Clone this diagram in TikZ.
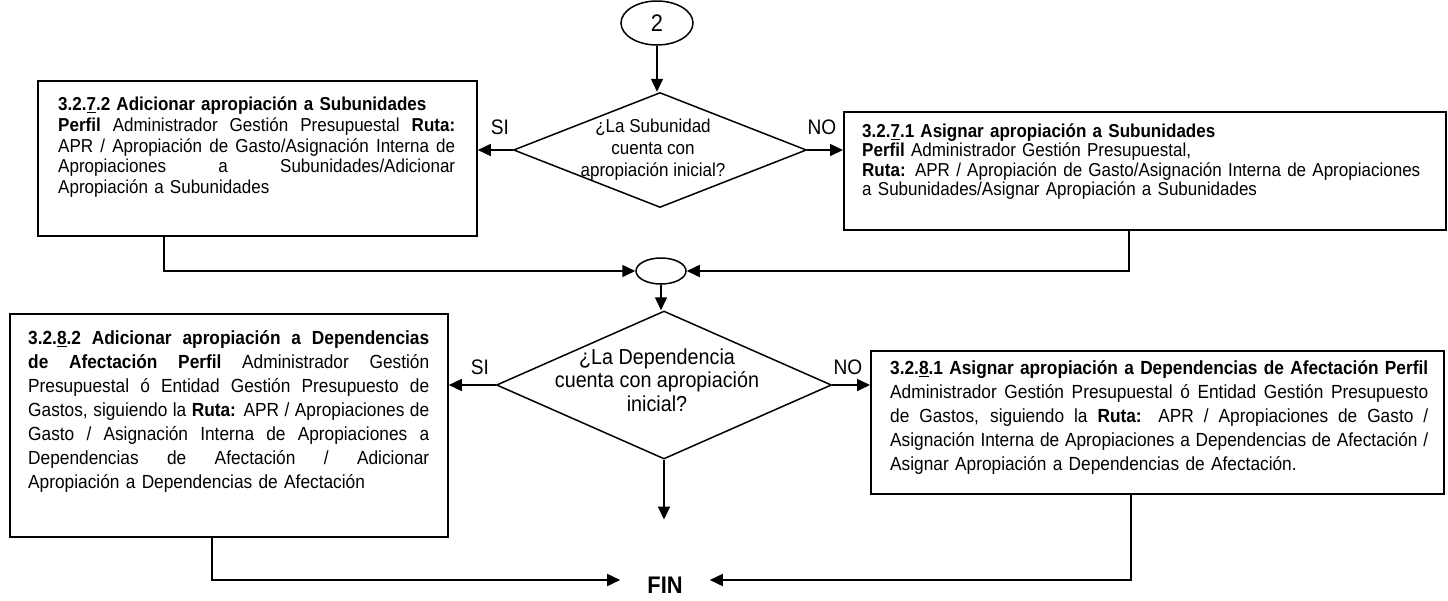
\documentclass[tikz,border=0pt]{standalone}
\usepackage{fontspec}
\setmainfont{Liberation Sans}[FakeStretch=0.91]
\usetikzlibrary{shapes.geometric,arrows.meta}
\newcommand{\jline}[2]{{\spaceskip=0pt\xspaceskip=0pt\makebox[#1][s]{#2}}}
\begin{document}
\begin{tikzpicture}[x=1pt,y=-1pt,
  box/.style={draw,line width=1.8pt,anchor=north west,inner sep=0pt},
  txt/.style={anchor=north west,inner sep=0pt,align=left},
  conn/.style={line width=1.6pt},
  arr/.style={conn,-{Triangle[length=13pt,width=12pt]}},
  lbl/.style={font=\fontsize{21}{24}\selectfont,inner sep=0pt},
  shp/.style={draw,line width=1.5pt,inner sep=0pt}
]
\useasboundingbox (0,0) rectangle (1448,600);

% start connector
\node[shp,ellipse,minimum width=72pt,minimum height=44pt,font=\fontsize{24}{28}\selectfont] (c2) at (657,23) {2};

% decision 1
\node[shp,diamond,minimum width=293pt,minimum height=115pt] (d1) at (660,150) {};
\node[inner sep=0pt,align=center,font=\fontsize{18.7}{22}\selectfont] (d1t) at (653,150) {¿La Subunidad\\cuenta con\\apropiación inicial?};

% box top left
\node[box,minimum width=439pt,minimum height=155pt] (b1) at (37,80) {};
\node[txt,text width=397pt,font=\fontsize{18.7}{20.8}\selectfont] (t1) at (58,96.5) {%
\textbf{3.2.\underline{7}.2 Adicionar apropiación a Subunidades}\\
\jline{397pt}{\textbf{Perfil} Administrador Gestión Presupuestal \textbf{Ruta:}}\\
\jline{397pt}{APR / Apropiación de Gasto/Asignación Interna de}\\
\jline{397pt}{Apropiaciones a Subunidades/Adicionar}\\
Apropiación a Subunidades};

% box top right
\node[box,minimum width=602pt,minimum height=118pt] (b2) at (843,111) {};
\node[txt,text width=580pt,font=\fontsize{18.7}{19.5}\selectfont] (t2) at (862,123.5) {%
\textbf{3.2.\underline{7}.1 Asignar apropiación a Subunidades}\\
\textbf{Perfil} Administrador Gestión Presupuestal,\\
\textbf{Ruta:} APR / Apropiación de Gasto/Asignación Interna de Apropiaciones\\
a Subunidades/Asignar Apropiación a Subunidades};

\node[lbl] (si1) at (500,127) {SI};
\node[lbl] (no1) at (822,127) {NO};

% merge
\node[shp,ellipse,minimum width=50pt,minimum height=26pt] (m) at (661,271) {};

% decision 2
\node[shp,diamond,minimum width=335pt,minimum height=148pt] (d2) at (664,385) {};
\node[inner sep=0pt,align=center,font=\fontsize{21.7}{23.5}\selectfont] (d2t) at (657,380) {¿La Dependencia\\cuenta con apropiación\\inicial?};

% box bottom left
\node[box,minimum width=438pt,minimum height=223pt] (b3) at (9,313) {};
\node[txt,text width=401pt,font=\fontsize{19}{24}\selectfont] (t3) at (28,330.5) {%
\jline{401pt}{\textbf{3.2.\underline{8}.2 Adicionar apropiación a Dependencias}}\\
\jline{401pt}{\textbf{de Afectación Perfil} Administrador Gestión}\\
\jline{401pt}{Presupuestal ó Entidad Gestión Presupuesto de}\\
\jline{401pt}{Gastos, siguiendo la \textbf{Ruta:} APR / Apropiaciones de}\\
\jline{401pt}{Gasto / Asignación Interna de Apropiaciones a}\\
\jline{401pt}{Dependencias de Afectación / Adicionar}\\
Apropiación a Dependencias de Afectación};

% box bottom right
\node[box,minimum width=573pt,minimum height=143pt] (b4) at (870,350) {};
\node[txt,text width=538pt,font=\fontsize{19}{24}\selectfont] (t4) at (890,360) {%
\jline{538pt}{\textbf{3.2.\underline{8}.1 Asignar apropiación a Dependencias de Afectación Perfil}}\\
\jline{538pt}{Administrador Gestión Presupuestal ó Entidad Gestión Presupuesto}\\
\jline{538pt}{de Gastos, siguiendo la \textbf{Ruta:} APR / Apropiaciones de Gasto /}\\
\jline{538pt}{Asignación Interna de Apropiaciones a Dependencias de Afectación /}\\
Asignar Apropiación a Dependencias de Afectación.};

\node[lbl] (si2) at (480,367) {SI};
\node[lbl] (no2) at (848,367) {NO};

% end
\node[inner sep=0pt,font=\fontsize{24}{28}\bfseries] (fin) at (665,585) {FIN};

% connectors
\draw[arr] (c2.south) -- (c2.south |- d1.north);
\draw[arr] (d1.west) -- (d1.west -| b1.east);
\draw[arr] (d1.east) -- (d1.east -| b2.west);
\draw[arr] ([xshift=-93.5pt]b1.south) |- (m.west);
\draw[arr] ([xshift=-16pt]b2.south) |- (m.east);
\draw[arr] (m.south) -- (m.south |- d2.north);
\draw[arr] (d2.west) -- (d2.west -| b3.east);
\draw[arr] (d2.east) -- (d2.east -| b4.west);
\draw[arr,shorten >=57pt] (d2.south) -- (d2.south |- fin.north);
\draw[arr,shorten >=27pt] ([xshift=-17pt]b3.south) |- ([yshift=5pt]fin.west);
\draw[arr,shorten >=27pt] ([xshift=-26.5pt]b4.south) |- ([yshift=5pt]fin.east);
\end{tikzpicture}
\end{document}
